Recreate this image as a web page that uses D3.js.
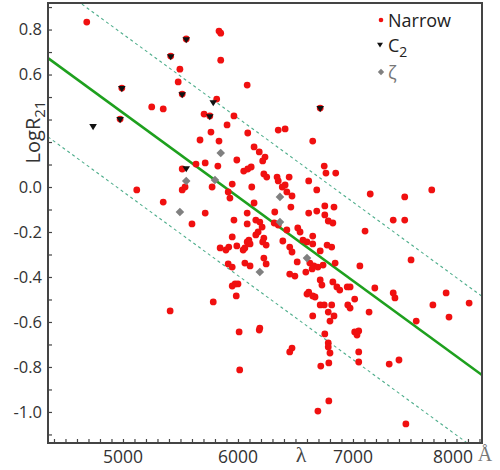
<!DOCTYPE html>
<html>
<head>
<meta charset="utf-8">
<script src="https://cdn.jsdelivr.net/npm/d3@7"></script>
<style>
  html, body { margin: 0; padding: 0; background: #fff; }
  svg { display: block; }
  text { font-family: "Open Sans", "DejaVu Sans", sans-serif; }
</style>
</head>
<body>
<svg id="chart" width="500" height="470"></svg>
<script>
// ---- Data ----
const narrowLambda = [4685,5835,5850,5495,5480,5850,6080,5250,5350,5815,5705,5965,5905,5765,6085,5670,5835,5990,6350,6410,
  6650,6140,6185,6235,6215,5715,5635,5825,6750,6765,6850,5515,6050,6085,6115,6225,6250,6340,6350,6445,
  6410,6385,6615,6685,5950,6120,5775,5515,5540,6425,6470,5350,5930,5915,6140,6460,5715,6080,6320,6615,
  6685,6755,5600,5965,6080,6155,6190,5120,7685,7150,7450,6755,6835,6785,6825,7350,7450,7105,6315,6350,
  6425,6520,6540,6210,6175,6155,6225,6215,6245,6095,6080,6105,5950,6390,6450,6470,6565,6600,6650,6650,
  6775,6815,6715,5990,5920,5895,5845,6060,6045,6225,6245,6515,6625,6660,6645,6695,6740,5915,5950,6060,
  6105,6450,6495,6590,6715,6730,5950,5975,6000,5985,6600,6615,6650,6670,6715,6750,6815,5785,5410,6650,
  6800,6010,6185,6190,6755,6785,6785,6470,6450,6800,6845,7060,7505,7190,7350,7365,7810,7695,8010,6860,
  6885,6950,6975,7015,6955,6975,6785,6835,7140,7550,7835,7015,7050,7035,7050,7050,7315,7400,6720,6790,
  6015,6790,6695,7460,6825,5550,5415,4990,5515,4975,5755,6715];
const narrowLogR = [0.733,0.693,0.684,0.524,0.467,0.564,0.453,0.356,0.347,0.391,0.324,0.316,0.276,0.244,0.240,0.209,0.204,0.120,0.253,0.258,
  0.204,0.178,0.156,0.133,0.116,0.107,0.102,0.093,0.093,0.062,0.062,0.080,0.071,0.080,0.089,0.058,0.044,0.044,0.027,0.044,
  0.009,0.000,0.027,-0.013,0.013,0.000,0.000,-0.013,0.000,-0.022,-0.040,-0.067,-0.049,-0.022,-0.071,-0.089,-0.116,-0.116,-0.111,-0.116,
  -0.107,-0.124,-0.164,-0.147,-0.164,-0.147,-0.156,-0.013,-0.013,-0.031,-0.044,-0.084,-0.089,-0.151,-0.160,-0.147,-0.147,-0.196,-0.160,-0.169,
  -0.191,-0.182,-0.200,-0.178,-0.200,-0.213,-0.227,-0.244,-0.258,-0.236,-0.244,-0.253,-0.222,-0.240,-0.267,-0.289,-0.236,-0.244,-0.218,-0.253,
  -0.258,-0.267,-0.284,-0.262,-0.267,-0.280,-0.271,-0.271,-0.280,-0.316,-0.342,-0.333,-0.338,-0.351,-0.364,-0.356,-0.347,-0.342,-0.356,-0.338,
  -0.351,-0.387,-0.396,-0.378,-0.413,-0.436,-0.440,-0.431,-0.431,-0.484,-0.476,-0.467,-0.484,-0.489,-0.524,-0.524,-0.524,-0.511,-0.551,-0.573,
  -0.596,-0.644,-0.636,-0.627,-0.653,-0.693,-0.711,-0.716,-0.733,-0.738,-0.338,-0.351,-0.324,-0.449,-0.471,-0.493,-0.471,-0.524,-0.516,-0.444,
  -0.458,-0.444,-0.444,-0.498,-0.524,-0.538,-0.556,-0.573,-0.556,-0.596,-0.578,-0.644,-0.640,-0.658,-0.733,-0.778,-0.787,-0.769,-0.796,-0.782,
  -0.813,-0.951,-0.996,-1.053,-0.422,0.658,0.582,0.440,0.413,0.302,0.316,0.351];

const c2Lambda = [5550,5415,4990,5515,5785,4740,4975,5755,6715,5550];
const c2LogR   = [0.653,0.578,0.436,0.409,0.373,0.267,0.298,0.311,0.347,0.080];

const zetaLambda = [5850,5550,5800,6365,5495,6365,6600,6190];
const zetaLogR   = [0.151,0.027,0.031,-0.044,-0.111,-0.156,-0.316,-0.378];

// fitted relation and its +/- band (end points at the frame edges)
const fitLambda   = [4348, 8122];
const fitLogR     = [0.573, -0.836];
const upperLogR   = [0.923, -0.486];
const lowerLogR   = [0.223, -1.186];

// axes
const xDomain = [4348, 8122];
const yDomain = [-1.138, 0.818];
const xTickValues = [5000, 6000, 7000, 8000];
const xTickLabels = ["5000", "6000", "7000", "8000"];
const yTickValues = [0.7, 0.5, 0.0, -0.2, -0.4, -0.6, -0.8, -1.0];
const yTickLabels = ["0.8", "0.6", "0.0", "-0.2", "-0.4", "-0.6", "-0.8", "-1.0"];
const xMinorTicks = [4400,4500,4600,4700,4800,4900,5000,5100,5200,5300,5400,5500,5600,5700,5800,5900,6000,6100,6200,6300,6400,6500,6600,6700,6800,6900,7000,7100,7200,7300,7400,7500,7600,7700,7800,7900,8000,8100];
const yMinorTicks = [0.8,0.7,0.6,0.5,0.4,0.3,0.2,0.1,0.0,-0.1,-0.2,-0.3,-0.4,-0.5,-0.6,-0.7,-0.8,-0.9,-1.0,-1.1];

const legendItems = [
  {label: "Narrow", kind: "dot"},
  {label: "C", sub: "2", kind: "tri"},
  {label: "ζ", kind: "diamond"}
];

// ---- Layout ----
const L = 48, T = 3, R = 482, B = 443;
const svg = d3.select("#chart");
const x = d3.scaleLinear().domain(xDomain).range([L, R]);
const y = d3.scaleLinear().domain(yDomain).range([B, T]);

svg.append("defs").append("clipPath").attr("id", "plotclip")
  .append("rect").attr("x", L).attr("y", T).attr("width", R - L).attr("height", B - T);

const plot = svg.append("g").attr("clip-path", "url(#plotclip)");

const line = d3.line().x(d => x(d[0])).y(d => y(d[1]));
const toPts = (xs, ys) => xs.map((v, i) => [v, ys[i]]);

// dashed band lines
[upperLogR, lowerLogR].forEach(arr => {
  plot.append("path").datum(toPts(fitLambda, arr))
    .attr("d", line).attr("fill", "none")
    .attr("stroke", "#4fae8c").attr("stroke-width", 1.1)
    .attr("stroke-dasharray", "3,3");
});

// fit line
plot.append("path").datum(toPts(fitLambda, fitLogR))
  .attr("d", line).attr("fill", "none")
  .attr("stroke", "#1ea01e").attr("stroke-width", 2.6);

// Narrow points
plot.selectAll("circle.narrow").data(toPts(narrowLambda, narrowLogR)).join("circle")
  .attr("class", "narrow")
  .attr("cx", d => x(d[0])).attr("cy", d => y(d[1])).attr("r", 3.4)
  .attr("fill", "#f01010");

// C2 triangles (pointing down)
const triPath = (cx, cy, s) => `M${cx - s},${cy - s * 0.75}L${cx + s},${cy - s * 0.75}L${cx},${cy + s * 0.85}Z`;
plot.selectAll("path.c2").data(toPts(c2Lambda, c2LogR)).join("path")
  .attr("class", "c2")
  .attr("d", d => triPath(x(d[0]), y(d[1]), 3.8))
  .attr("fill", "#111");

// zeta diamonds
const diaPath = (cx, cy, s) => `M${cx},${cy - s}L${cx + s},${cy}L${cx},${cy + s}L${cx - s},${cy}Z`;
plot.selectAll("path.zeta").data(toPts(zetaLambda, zetaLogR)).join("path")
  .attr("class", "zeta")
  .attr("d", d => diaPath(x(d[0]), y(d[1]), 4.3))
  .attr("fill", "#808080");

// ---- Frame ----
svg.append("rect").attr("x", L).attr("y", T).attr("width", R - L).attr("height", B - T)
  .attr("fill", "none").attr("stroke", "#444").attr("stroke-width", 2);

// minor ticks (inward)
const xAxisTicks = d3.axisBottom(x).tickValues(xMinorTicks).tickSize(-4).tickFormat("");
svg.append("g").attr("transform", `translate(0,${B})`).call(xAxisTicks)
  .call(g => g.select(".domain").remove())
  .call(g => g.selectAll("line").attr("stroke", "#444").attr("stroke-width", 1.2));
const yAxisTicks = d3.axisLeft(y).tickValues(yMinorTicks).tickSize(-4).tickFormat("");
svg.append("g").attr("transform", `translate(${L},0)`).call(yAxisTicks)
  .call(g => g.select(".domain").remove())
  .call(g => g.selectAll("line").attr("stroke", "#444").attr("stroke-width", 1.2));

// tick labels
svg.append("g").selectAll("text").data(xTickValues).join("text")
  .attr("x", (d, i) => i === xTickValues.length - 1 ? x(d) + 5 : x(d))
  .attr("y", 463)
  .attr("text-anchor", (d, i) => i === xTickValues.length - 1 ? "end" : "middle")
  .attr("font-size", 17.5).attr("fill", "#333")
  .text((d, i) => xTickLabels[i]);

svg.append("g").selectAll("text").data(yTickValues).join("text")
  .attr("x", 42).attr("y", d => y(d)).attr("dy", "0.36em")
  .attr("text-anchor", "end")
  .attr("font-size", 16.5).attr("fill", "#333")
  .text((d, i) => yTickLabels[i]);

// axis titles
svg.append("text").attr("x", 301).attr("y", 462).attr("text-anchor", "middle")
  .style("font-family", "'Liberation Serif', 'DejaVu Serif', serif")
  .attr("font-size", 22).attr("fill", "#444").text("λ");
svg.append("text").attr("x", 485).attr("y", 461).attr("text-anchor", "middle")
  .style("font-family", "'Liberation Serif', 'DejaVu Serif', serif")
  .attr("font-size", 20).attr("fill", "#777").text("Å");

const yt = svg.append("text").attr("transform", "translate(40,132) rotate(-90)")
  .attr("text-anchor", "middle").attr("font-size", 20).attr("fill", "#333");
yt.append("tspan").text("LogR");
yt.append("tspan").attr("font-size", 15).attr("dy", 5).text("21");

// ---- Legend ----
const lg = svg.append("g");
legendItems.forEach((it, i) => {
  const cy = [20, 45, 72][i];
  if (it.kind === "dot") {
    lg.append("circle").attr("cx", 381).attr("cy", cy).attr("r", 2.3).attr("fill", "#f01010");
  } else if (it.kind === "tri") {
    lg.append("path").attr("d", triPath(380, cy, 3)).attr("fill", "#111");
  } else {
    lg.append("path").attr("d", diaPath(381, cy, 3.2)).attr("fill", "#808080");
  }
  const t = lg.append("text").attr("x", 388).attr("y", cy + 7)
    .attr("font-size", 18).attr("fill", it.kind === "diamond" ? "#777" : "#222");
  t.append("tspan").text(it.label);
  if (it.sub) t.append("tspan").attr("font-size", 14).attr("dy", 5).text(it.sub);
});
</script>
</body>
</html>
